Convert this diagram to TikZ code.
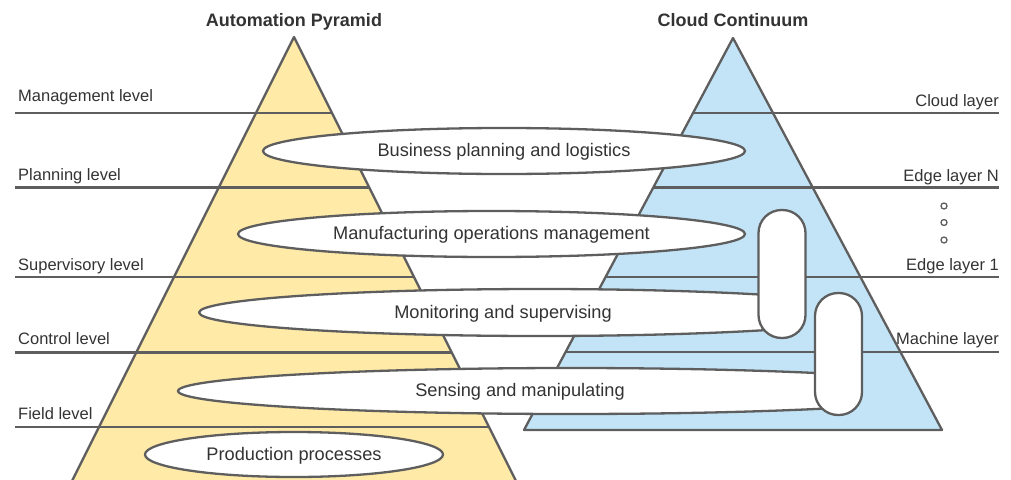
\documentclass[tikz,border=0pt]{standalone}
\usepackage{fontspec}
\setmainfont{Liberation Sans}
\usetikzlibrary{shapes.geometric}
\definecolor{pyryellow}{HTML}{FFEAA7}
\definecolor{contblue}{HTML}{C2E4F6}
\definecolor{edgegray}{HTML}{5E5E5E}
\definecolor{txtgray}{HTML}{333333}
\tikzset{
  band/.style={ellipse, draw=edgegray, fill=white, line width=2.3pt, inner sep=0pt, text=txtgray, font=\fontsize{18.2}{21}\selectfont},
  bandtext/.style={inner sep=0pt, text=txtgray, font=\fontsize{18.2}{21}\selectfont},
  layerspan/.style={draw=edgegray, fill=white, line width=2.3pt, rounded corners=23pt, inner sep=0pt, minimum width=47pt},
  levelline/.style={draw=edgegray, line width=2.3pt},
  levellabel/.style={inner sep=0pt, text=txtgray, font=\fontsize{16.5}{19}\selectfont},
  heading/.style={inner sep=0pt, anchor=base, text=txtgray, font=\bfseries\fontsize{18}{21}\selectfont}
}
\begin{document}
\begin{tikzpicture}[x=1pt, y=-1pt, line join=round]
\clip (0,0) rectangle (1011,479);
\node[heading] (pyrtitle) at (294,27) {Automation Pyramid};
\node[heading] (conttitle) at (733,27) {Cloud Continuum};
\filldraw[fill=pyryellow, draw=edgegray, line width=2.3pt] (294,37) -- (62,501) -- (526,501) -- cycle;
\filldraw[fill=contblue, draw=edgegray, line width=2.3pt] (733,38) -- (524,430) -- (942,430) -- cycle;
\foreach \y/\name/\base [count=\i] in {113/Management level/101.5, 187.5/Planning level/180, 277/Supervisory level/270, 352.5/Control level/344.5, 427/Field level/419} {
  \pgfmathsetmacro{\xr}{294+0.5*(\y-37)}
  \draw[levelline] (15,\y) -- (\xr,\y);
  \node[levellabel, anchor=base west] (level\i) at (18,\base) {\name};
}
\foreach \y/\name/\base [count=\i] in {113/Cloud layer/106, 187.5/Edge layer N/181, 277/Edge layer 1/270, 352/Machine layer/344} {
  \pgfmathsetmacro{\xl}{733-209/392*(\y-38)}
  \draw[levelline] (\xl,\y) -- (999,\y);
  \node[levellabel, anchor=base east] (layer\i) at (999,\base) {\name};
}
\foreach \y [count=\i] in {206,222.5,240}
  \node[circle, draw=edgegray, line width=1.3pt, minimum size=6pt, inner sep=0pt] (dot\i) at (944,\y) {};
\node[band, minimum width=482pt, minimum height=46pt] (business) at (504,151) {};
\node[band, minimum width=507pt, minimum height=46pt] (manufacturing) at (491.5,234) {};
% the two lower bands run on under the spans
\begin{scope}
  \clip (0,0) rectangle (782,479);
  \node[band, minimum width=682pt, minimum height=47pt] (monitoring) at (540,312.5) {};
\end{scope}
\begin{scope}
  \clip (0,0) rectangle (838,479);
  \node[band, minimum width=786pt, minimum height=46pt] (sensing) at (571,391) {};
\end{scope}
\node[band, minimum width=298pt, minimum height=45pt] (production) at (294,454.5) {};
\node[bandtext, anchor=base] (businesstext) at (504,156.7) {Business planning and logistics};
\node[bandtext, anchor=base] (manufacturingtext) at (491.5,239.7) {Manufacturing operations management};
\node[bandtext, anchor=base] (monitoringtext) at (503,318.2) {Monitoring and supervising};
\node[bandtext, anchor=base] (sensingtext) at (520,396.7) {Sensing and manipulating};
\node[bandtext, anchor=base] (productiontext) at (294,460) {Production processes};
\node[layerspan, minimum height=128pt] (edgespan) at (782,274) {};
\node[layerspan, minimum height=122pt] (machinespan) at (838.5,354) {};
\end{tikzpicture}
\end{document}
